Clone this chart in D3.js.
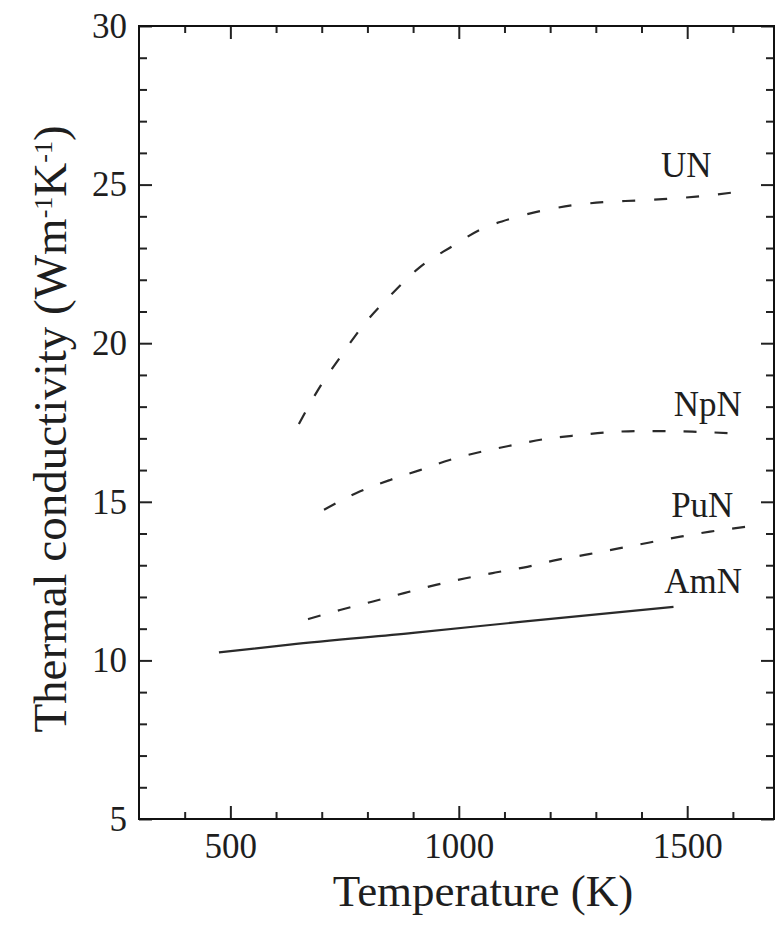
<!DOCTYPE html>
<html>
<head>
<meta charset="utf-8">
<script src="https://cdn.jsdelivr.net/npm/d3@7/dist/d3.min.js"></script>
<style>
  body { margin: 0; background: #fff; }
  svg { display: block; }
  .tick text { font-family: "Liberation Serif", "Times New Roman", serif; font-size: 35px; fill: #1e1e1e; }
  .domain { display: none; }
  .tick line { stroke: #222; stroke-width: 2; }
</style>
</head>
<body>
<svg id="chart" width="775" height="927"></svg>
<script>
// data: temperature (K) vs thermal conductivity (W/m/K)
const unT  = [650, 695, 740, 790, 850, 915, 985, 1050, 1120, 1190, 1250, 1320, 1390, 1455, 1520, 1600];
const unK  = [17.45, 18.6, 19.55, 20.55, 21.5, 22.4, 23.05, 23.6, 23.95, 24.2, 24.35, 24.45, 24.5, 24.55, 24.62, 24.75];
const npnT = [705, 775, 850, 915, 980, 1050, 1120, 1185, 1260, 1325, 1395, 1460, 1530, 1600];
const npnK = [14.75, 15.27, 15.69, 16.0, 16.32, 16.58, 16.79, 16.97, 17.1, 17.19, 17.23, 17.23, 17.2, 17.16];
const punT = [670, 740, 810, 880, 950, 1015, 1080, 1150, 1215, 1285, 1350, 1415, 1485, 1550, 1640];
const punK = [11.3, 11.59, 11.85, 12.12, 12.38, 12.59, 12.77, 12.95, 13.17, 13.35, 13.53, 13.71, 13.9, 14.06, 14.23];
const amnT = [475, 630, 900, 1140, 1470];
const amnK = [10.25, 10.5, 10.87, 11.22, 11.69];

const seriesNames = ["UN", "NpN", "PuN", "AmN"];
// where each name sits, in data units (T of text centre, k of baseline)
const labelT = [1498, 1545, 1533, 1535];
const labelK = [25.24, 17.7, 14.52, 12.12];

const xTicks = [500, 1000, 1500];
const yTicks = [5, 10, 15, 20, 25, 30];

const mLeft = 139, mRight = 774, mTop = 26, mBottom = 819;
const serif = '"Liberation Serif", "Times New Roman", serif';

const svg = d3.select("#chart");

const x = d3.scaleLinear().domain([300, 1690]).range([mLeft, mRight]);
const y = d3.scaleLinear().domain([5, 30]).range([mBottom, mTop]);

const xMinor = d3.range(400, 1690, 100).filter(v => !xTicks.includes(v));
const yMinor = d3.range(6, 30, 1).filter(v => !yTicks.includes(v));

// major ticks with labels, inward
svg.append("g").attr("transform", `translate(0,${mBottom})`)
  .call(d3.axisBottom(x).tickValues(xTicks).tickFormat(d3.format("d"))
    .tickSizeInner(-13).tickSizeOuter(0).tickPadding(14));
svg.append("g").attr("transform", `translate(${mLeft},0)`)
  .call(d3.axisLeft(y).tickValues(yTicks).tickFormat(d3.format("d"))
    .tickSizeInner(-13).tickSizeOuter(0).tickPadding(12));
svg.append("g").attr("transform", `translate(0,${mTop})`)
  .call(d3.axisTop(x).tickValues(xTicks).tickSizeInner(-13).tickSizeOuter(0).tickFormat(""));
svg.append("g").attr("transform", `translate(${mRight},0)`)
  .call(d3.axisRight(y).tickValues(yTicks).tickSizeInner(-13).tickSizeOuter(0).tickFormat(""));

// minor ticks
svg.append("g").attr("transform", `translate(0,${mBottom})`)
  .call(d3.axisBottom(x).tickValues(xMinor).tickSizeInner(-7).tickSizeOuter(0).tickFormat(""));
svg.append("g").attr("transform", `translate(0,${mTop})`)
  .call(d3.axisTop(x).tickValues(xMinor).tickSizeInner(-7).tickSizeOuter(0).tickFormat(""));
svg.append("g").attr("transform", `translate(${mLeft},0)`)
  .call(d3.axisLeft(y).tickValues(yMinor).tickSizeInner(-8).tickSizeOuter(0).tickFormat(""));
svg.append("g").attr("transform", `translate(${mRight},0)`)
  .call(d3.axisRight(y).tickValues(yMinor).tickSizeInner(-8).tickSizeOuter(0).tickFormat(""));

// frame
svg.append("rect")
  .attr("x", mLeft).attr("y", mTop)
  .attr("width", mRight - mLeft).attr("height", mBottom - mTop)
  .attr("fill", "none").attr("stroke", "#111").attr("stroke-width", 2);

// curves
const line = d3.line()
  .x(d => x(d[0]))
  .y(d => y(d[1]))
  .curve(d3.curveMonotoneX);

const series = [
  { T: unT,  K: unK,  dash: "13,19" },
  { T: npnT, K: npnK, dash: "13,18" },
  { T: punT, K: punK, dash: "13,18" },
  { T: amnT, K: amnK, dash: null }
];

series.forEach(s => {
  svg.append("path")
    .datum(d3.zip(s.T, s.K))
    .attr("d", line)
    .attr("fill", "none")
    .attr("stroke", "#2a2a2a")
    .attr("stroke-width", 2.2)
    .attr("stroke-dasharray", s.dash);
});

// series names
svg.selectAll("text.name")
  .data(seriesNames)
  .join("text")
  .attr("class", "name")
  .attr("x", (d, i) => x(labelT[i]))
  .attr("y", (d, i) => y(labelK[i]))
  .attr("text-anchor", "middle")
  .style("font-family", serif)
  .style("font-size", "35px")
  .style("fill", "#1e1e1e")
  .text(d => d);

// axis titles
svg.append("text")
  .attr("x", 483)
  .attr("y", 906)
  .attr("text-anchor", "middle")
  .style("font-family", serif)
  .style("font-size", "45px")
  .style("fill", "#1e1e1e")
  .text("Temperature (K)");

const yt = svg.append("text")
  .attr("transform", "translate(66,429) rotate(-90)")
  .attr("text-anchor", "middle")
  .style("font-family", serif)
  .style("font-size", "47px")
  .style("fill", "#1e1e1e");
yt.append("tspan").text("Thermal conductivity (Wm");
yt.append("tspan").attr("baseline-shift", "super").style("font-size", "26px").text("-1");
yt.append("tspan").text("K");
yt.append("tspan").attr("baseline-shift", "super").style("font-size", "26px").text("-1");
yt.append("tspan").text(")");
</script>
</body>
</html>
